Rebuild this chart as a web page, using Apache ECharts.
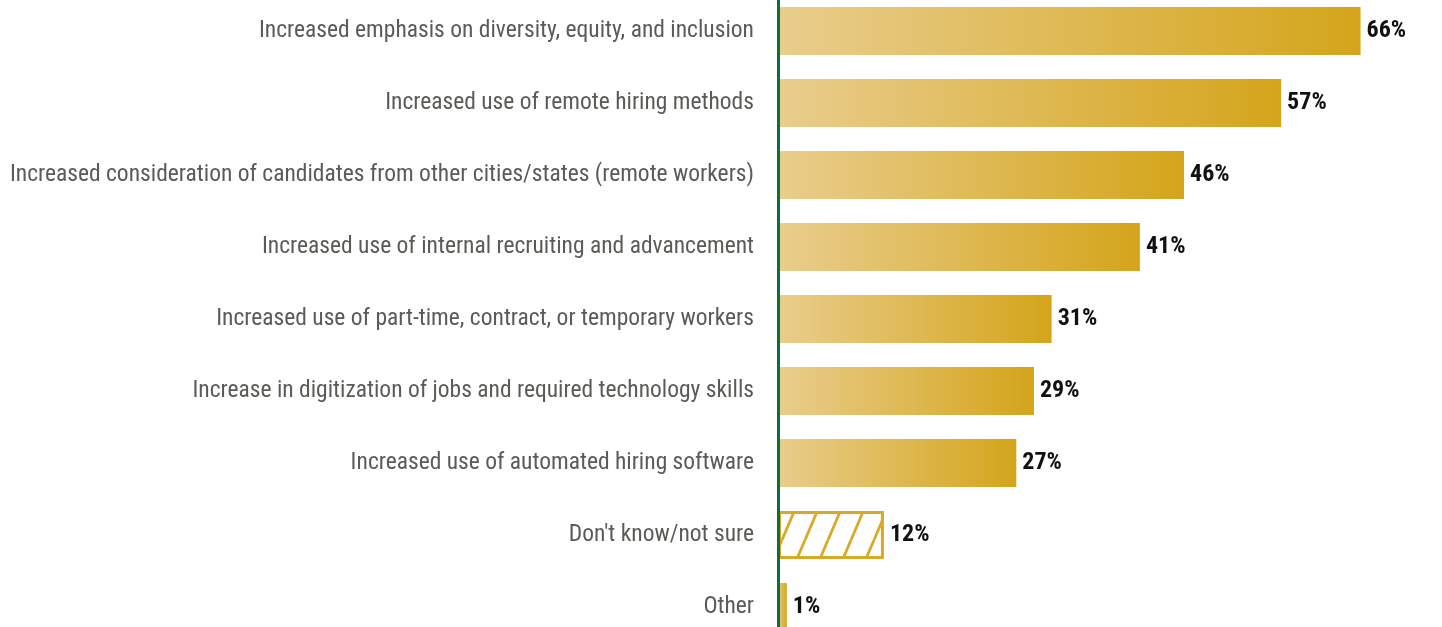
<!DOCTYPE html>
<html>
<head>
<meta charset="utf-8">
<script src="https://cdn.jsdelivr.net/npm/echarts@6/dist/echarts.min.js"></script>
<style>
  html, body { margin: 0; padding: 0; background: #ffffff; }
  #chart { width: 1442px; height: 627px; }
</style>
</head>
<body>
<div id="chart"></div>
<script>
// Survey answers, listed top to bottom
const categories = [
  'Increased emphasis on diversity, equity, and inclusion',
  'Increased use of remote hiring methods',
  'Increased consideration of candidates from other cities/states (remote workers)',
  'Increased use of internal recruiting and advancement',
  'Increased use of part-time, contract, or temporary workers',
  'Increase in digitization of jobs and required technology skills',
  'Increased use of automated hiring software',
  "Don't know/not sure",
  'Other'
];
// Share of respondents, percent
const values = [66, 57, 46, 41, 31, 29, 27, 12, 1];
// Answers drawn with a hatched outline instead of a solid fill
const hatchedCategories = ["Don't know/not sure"];

const GOLD_LIGHT = '#e9cd8c';
const GOLD_DARK = '#d4a51b';
const HATCH = '#d9a925';
const FONT = '"Roboto Condensed", "DejaVu Sans Condensed", sans-serif';

// Diagonal stripe tile for hatched bars
function makeHatch() {
  const w = 23, h = 54;
  const c = document.createElement('canvas');
  c.width = w; c.height = h;
  const ctx = c.getContext('2d');
  ctx.strokeStyle = HATCH;
  ctx.lineWidth = 2.8;
  for (const dx of [-w, 0, w]) {
    ctx.beginPath();
    ctx.moveTo(dx, h);
    ctx.lineTo(dx + w, 0);
    ctx.stroke();
  }
  return c;
}
const hatchTile = makeHatch();

const gradient = new echarts.graphic.LinearGradient(0, 0, 1, 0, [
  { offset: 0, color: GOLD_LIGHT },
  { offset: 1, color: GOLD_DARK }
]);

const barData = values.map((v, i) => {
  if (hatchedCategories.includes(categories[i])) {
    return {
      value: v,
      itemStyle: {
        color: { image: hatchTile, repeat: 'repeat' },
        borderColor: HATCH,
        borderWidth: 3
      }
    };
  }
  return { value: v, itemStyle: { color: gradient } };
});

const chart = echarts.init(document.getElementById('chart'), null, { renderer: 'canvas' });
chart.setOption({
  animation: false,
  grid: { left: 778, top: -5, width: 662, height: 648, outerBoundsMode: 'none', containLabel: false },
  xAxis: {
    type: 'value', min: 0, max: 75, show: false
  },
  yAxis: {
    type: 'category',
    data: categories,
    inverse: true,
    z: 5,
    axisLine: { show: true, lineStyle: { color: '#0b6e3c', width: 3 } },
    axisTick: { show: false },
    axisLabel: {
      margin: 24,
      padding: [5, 0, 0, 0],
      fontFamily: FONT,
      fontSize: 23.5,
      color: '#5a5a56'
    },
    splitLine: { show: false }
  },
  series: [{
    type: 'bar',
    data: barData,
    barWidth: 48,
    label: {
      show: true,
      position: 'right',
      distance: 6,
      padding: [5, 0, 0, 0],
      formatter: '{c}%',
      fontFamily: FONT,
      fontWeight: 'bold',
      fontSize: 24,
      color: '#111111'
    }
  }]
});
</script>
</body>
</html>
